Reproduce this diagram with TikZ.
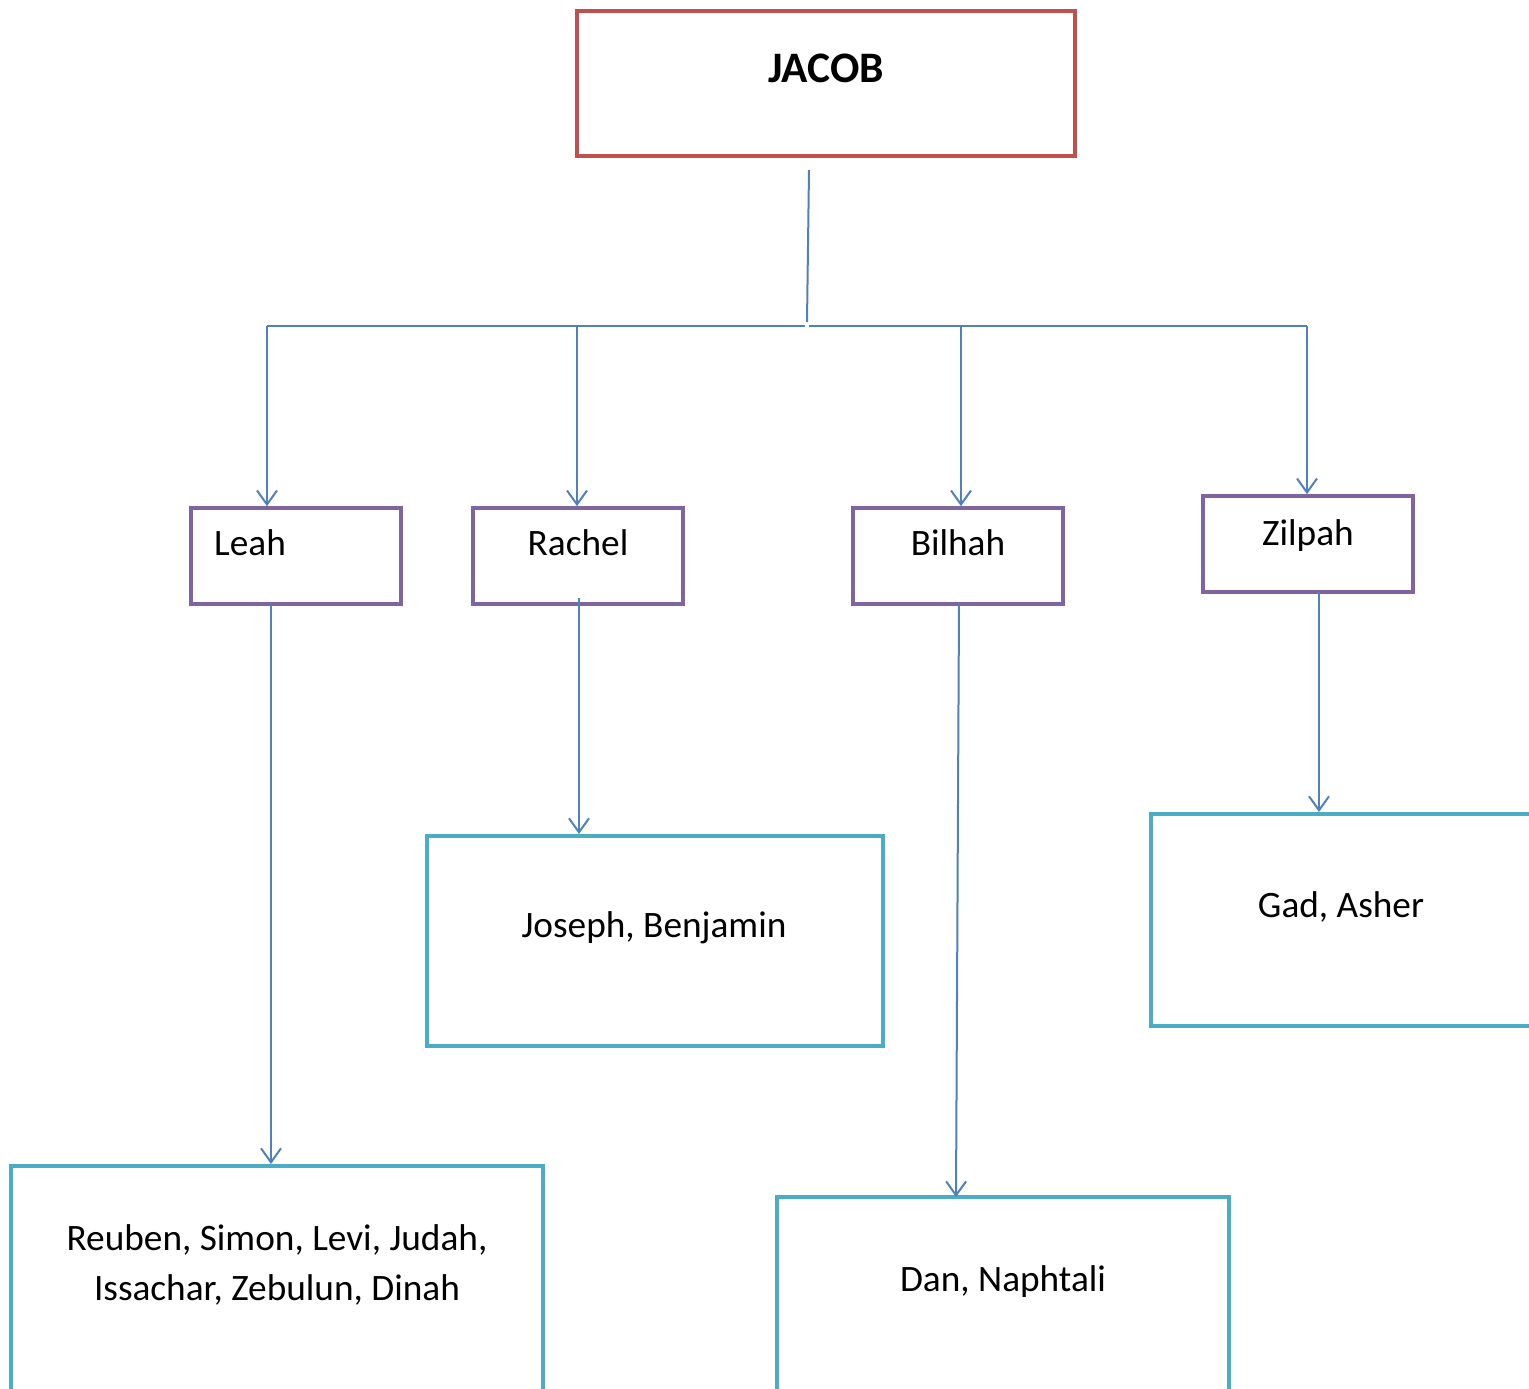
\documentclass[tikz,border=0pt]{standalone}
\usepackage{fontspec}
\setmainfont{Carlito}
\usetikzlibrary{arrows.meta}
\definecolor{jred}{RGB}{192,80,77}
\definecolor{wpurple}{RGB}{128,100,162}
\definecolor{cteal}{RGB}{75,172,198}
\definecolor{lblue}{RGB}{79,129,189}
\begin{document}
\begin{tikzpicture}[x=1pt,y=-1pt,
  box/.style={draw,inner sep=0pt,line width=4pt},
  topbox/.style={box,draw=jred},
  wifebox/.style={box,draw=wpurple,line width=3.6pt},
  kidbox/.style={box,draw=cteal},
  conn/.style={draw=lblue,line width=2pt},
  arr/.style={conn,-{Straight Barb[length=14pt,width=20pt,line width=2pt]}},
  txt/.style={font=\fontsize{37.3}{50}\selectfont,inner sep=0pt,align=center,anchor=base},
  bigtxt/.style={font=\bfseries\fontsize{43.5}{50}\selectfont,inner sep=0pt,anchor=base}]
\useasboundingbox (0,0) rectangle (1529,1389);
\clip (0,0) rectangle (1529,1389);
\fill[white] (0,0) rectangle (1529,1389);

% boxes
\node[topbox,minimum width=498pt,minimum height=145pt] (jacob) at (826,83.5) {};
\node[wifebox,minimum width=210pt,minimum height=96pt] (leah) at (296,556) {};
\node[wifebox,minimum width=210pt,minimum height=96pt] (rachel) at (578,556) {};
\node[wifebox,minimum width=210pt,minimum height=96pt] (bilhah) at (958,556) {};
\node[wifebox,minimum width=210pt,minimum height=96pt] (zilpah) at (1308,544) {};
\node[kidbox,minimum width=456pt,minimum height=210pt] (joseph) at (655,941) {};
\node[kidbox,minimum width=380pt,minimum height=212pt] (gad) at (1341,920) {};
\node[kidbox,minimum width=532pt,minimum height=254pt] (reuben) at (277,1293) {};
\node[kidbox,minimum width=452pt,minimum height=223pt] (dan) at (1003,1308.5) {};

% texts
\node[bigtxt] (tjacob) at (826,82) {JACOB};
\node[txt,anchor=base west] (tleah) at (214,555) {Leah};
\node[txt] (trachel) at (578,555) {Rachel};
\node[txt] (tbilhah) at (958,555) {Bilhah};
\node[txt] (tzilpah) at (1308,545) {Zilpah};
\node[txt] (tjoseph) at (654,937) {Joseph, Benjamin};
\node[txt] (tgad) at (1341,917) {Gad, Asher};
\node[txt] (treuben1) at (277,1250) {Reuben, Simon, Levi, Judah,};
\node[txt] (treuben2) at (277,1300) {Issachar, Zebulun, Dinah};
\node[txt] (tdan) at (1003,1291) {Dan, Naphtali};

% connectors
\coordinate (stub) at (809,170);
\coordinate (mid) at (807,322);
\coordinate (b1) at (267,326);
\coordinate (b2) at (577,326);
\coordinate (b3) at (961,326);
\coordinate (b4) at (1307,326);
\coordinate (gl) at (805,326);
\coordinate (gr) at (809,326);
\draw[conn] (stub) -- (mid);
\draw[conn] (b1) -- (gl);
\draw[conn] (gr) -- (b4);
\draw[arr] (b1) -- (b1 |- leah.north);
\draw[arr] (b2) -- (b2 |- rachel.north);
\draw[arr] (b3) -- (b3 |- bilhah.north);
\draw[arr] (b4) -- (b4 |- zilpah.north);

\coordinate (l1) at (271,604);
\coordinate (r1) at (579,598);
\coordinate (bi1) at (959,604);
\coordinate (bi2) at (956,1197);
\coordinate (z1) at (1319,592);
\draw[arr] (l1) -- (l1 |- reuben.north);
\draw[arr] (r1) -- (r1 |- joseph.north);
\draw[arr] (bi1) -- (bi2);
\draw[arr] (z1) -- (z1 |- gad.north);
\end{tikzpicture}
\end{document}
